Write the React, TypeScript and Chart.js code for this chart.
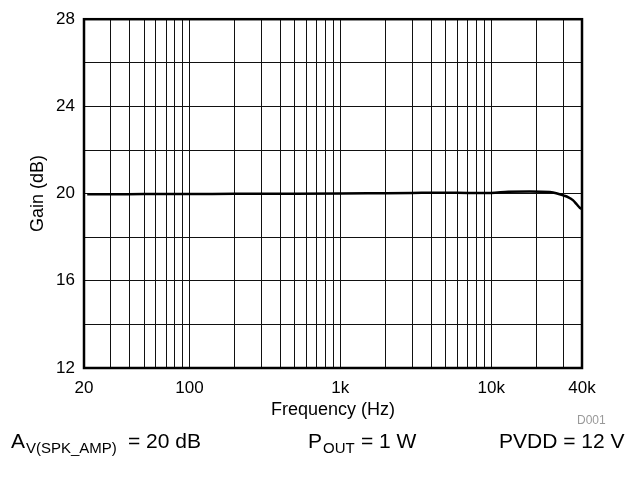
import React, { useEffect, useRef } from 'react';
import { Chart, registerables } from 'chart.js';

Chart.register(...registerables);

const freqHz = [21, 30, 50, 100, 200, 500, 1000, 2000, 3000, 5000, 7000, 10000, 13000, 18000, 24500, 27000, 30000, 32500, 34800, 37000, 38700, 40000];
const gainDb = [19.97, 19.97, 19.98, 19.98, 19.99, 19.99, 20.0, 20.02, 20.03, 20.04, 20.03, 20.03, 20.09, 20.1, 20.07, 20.02, 19.92, 19.83, 19.7, 19.5, 19.35, 19.28];

const xGridTicks = [20, 30, 40, 50, 60, 70, 80, 90, 100, 200, 300, 400, 500, 600, 700, 800, 900, 1000, 2000, 3000, 4000, 5000, 6000, 7000, 8000, 9000, 10000, 20000, 30000, 40000];
const xTickLabels: Record<number, string> = { 20: '20', 100: '100', 1000: '1k', 10000: '10k', 40000: '40k' };
const yTickLabels = [12, 16, 20, 24, 28];

const xTitle = 'Frequency (Hz)';
const yTitle = 'Gain (dB)';
const noteId = 'D001';

const FONT = "'Liberation Sans', Arial, sans-serif";

const framePlugin = {
  id: 'frame',
  afterDraw(chart: any) {
    const { ctx, chartArea } = chart;
    ctx.save();
    ctx.strokeStyle = '#000';
    ctx.lineWidth = 2.5;
    ctx.strokeRect(chartArea.left, chartArea.top, chartArea.right - chartArea.left, chartArea.bottom - chartArea.top);

    ctx.fillStyle = '#999';
    ctx.font = `12px ${FONT}`;
    ctx.textAlign = 'left';
    ctx.textBaseline = 'alphabetic';
    ctx.fillText(noteId, 577, 424);

    const main = `21px ${FONT}`;
    const small = `15px ${FONT}`;
    ctx.fillStyle = '#000';
    ctx.font = main;
    ctx.fillText('A', 11, 448);
    ctx.font = small;
    ctx.fillText('V(SPK_AMP)', 26, 453);
    ctx.font = main;
    ctx.fillText('= 20 dB', 128, 448);

    ctx.fillText('P', 308, 448);
    ctx.font = small;
    ctx.fillText('OUT', 323, 453);
    ctx.font = main;
    ctx.fillText('= 1 W', 361, 448);

    ctx.fillText('PVDD = 12 V', 499, 448);
    ctx.restore();
  },
};

export default function App() {
  const ref = useRef<HTMLCanvasElement>(null);
  useEffect(() => {
    if (!ref.current) return;
    const chart = new Chart(ref.current, {
      type: 'line',
      data: {
        datasets: [
          {
            data: freqHz.map((f, i) => ({ x: f, y: gainDb[i] })),
            borderColor: '#000',
            borderWidth: 2.5,
            pointRadius: 0,
            cubicInterpolationMode: 'monotone',
            fill: false,
          },
        ],
      },
      options: {
        responsive: false,
        animation: false,
        layout: { padding: { top: 16, right: 54, left: 0, bottom: 0 } },
        plugins: { legend: { display: false }, tooltip: { enabled: false } },
        scales: {
          x: {
            type: 'logarithmic',
            min: 20,
            max: 40000,
            afterBuildTicks: (scale: any) => {
              scale.ticks = xGridTicks.map((v) => ({ value: v }));
            },
            afterFit: (scale: any) => {
              scale.height = 116;
            },
            grid: { color: '#111', lineWidth: 1, drawTicks: false },
            border: { display: false },
            ticks: {
              autoSkip: false,
              maxRotation: 0,
              padding: 10,
              color: '#000',
              font: { family: FONT, size: 17 },
              callback: (v: any) => xTickLabels[Number(v)] ?? '',
            },
            title: {
              display: true,
              text: xTitle,
              color: '#000',
              font: { family: FONT, size: 18 },
              padding: { top: 0, bottom: 63 },
            },
          },
          y: {
            min: 12,
            max: 28,
            afterFit: (scale: any) => {
              scale.width = 84;
            },
            grid: { color: '#111', lineWidth: 1, drawTicks: false },
            border: { display: false },
            ticks: {
              stepSize: 2,
              padding: 9,
              color: '#000',
              font: { family: FONT, size: 17 },
              callback: (v: any) => (yTickLabels.includes(Number(v)) ? String(v) : ''),
            },
            title: {
              display: true,
              text: yTitle,
              color: '#000',
              font: { family: FONT, size: 18 },
              padding: { top: 27, bottom: 0 },
            },
          },
        },
      },
      plugins: [framePlugin],
    } as any);
    return () => chart.destroy();
  }, []);
  return (
    <div style={{ position: 'absolute', left: 0, top: 0, width: 636, height: 484, background: '#fff' }}>
      <canvas ref={ref} width={636} height={484} style={{ display: 'block' }} />
    </div>
  );
}
